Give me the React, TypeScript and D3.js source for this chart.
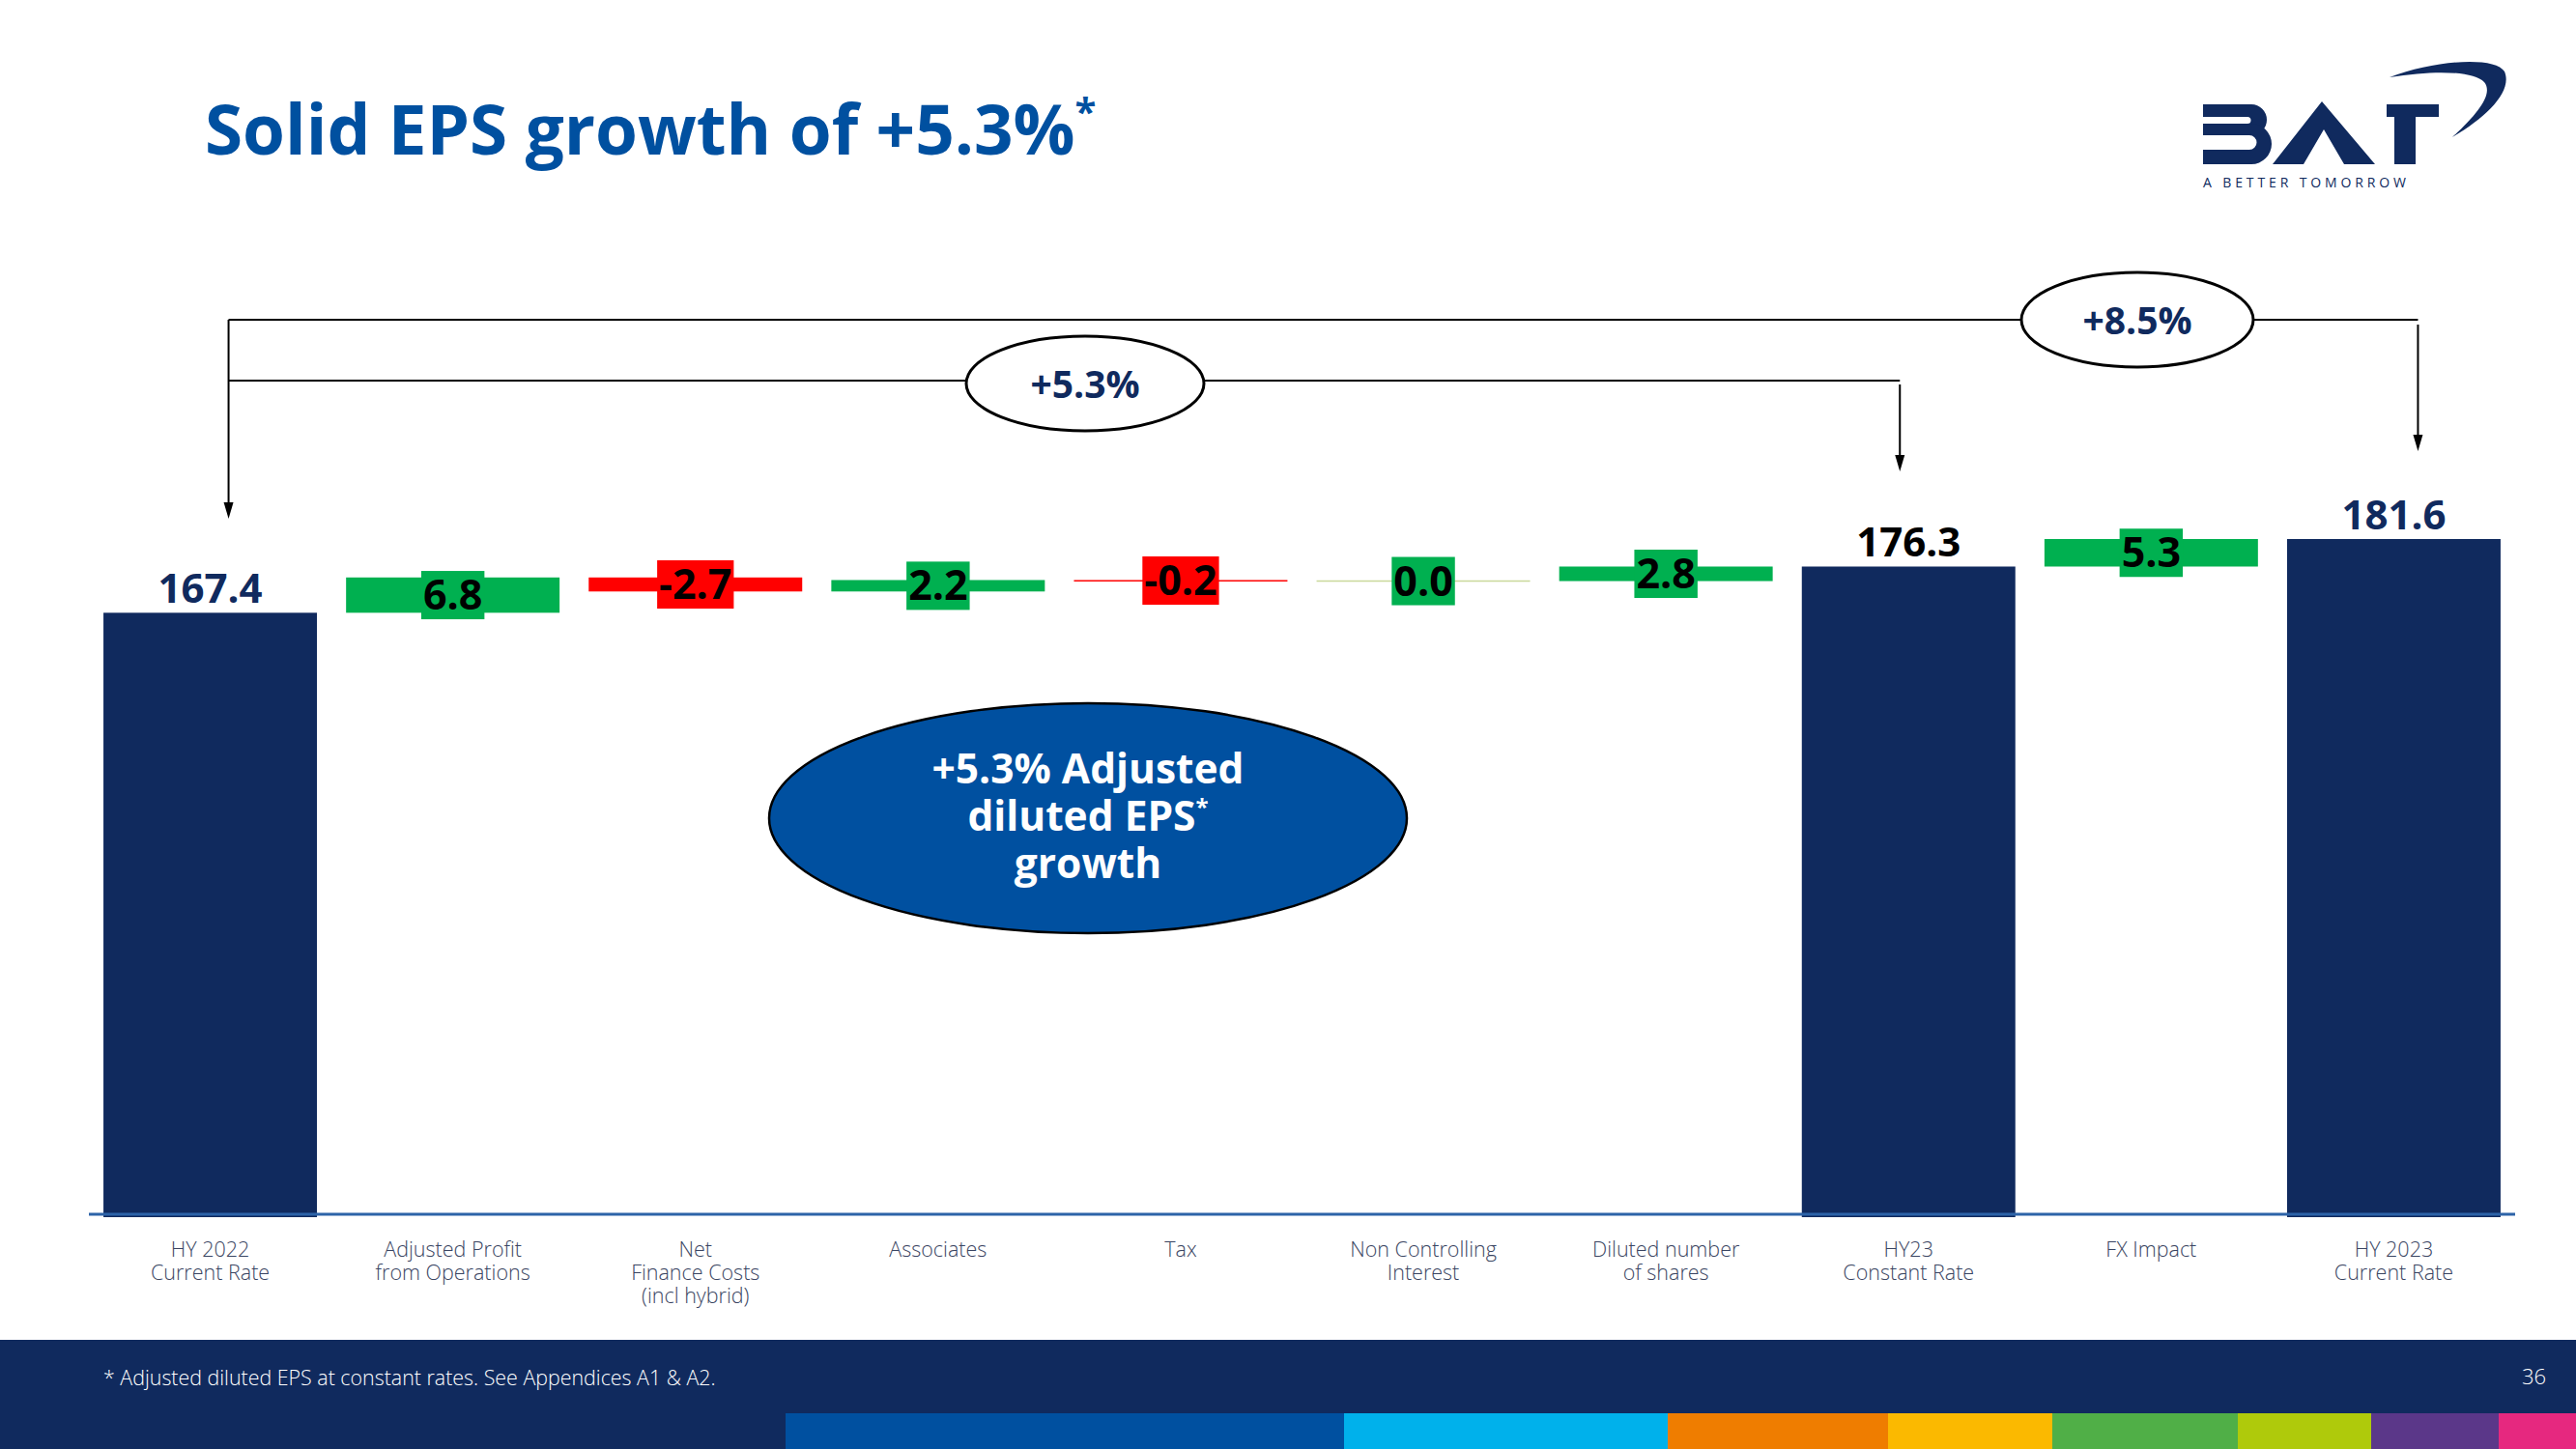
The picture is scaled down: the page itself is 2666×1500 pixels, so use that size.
import React, { useMemo } from "react";
import * as d3 from "d3";

const W = 2666;
const H = 1500;

// ---------- data ----------
const categories: string[][] = [
  ["HY 2022", "Current Rate"],
  ["Adjusted Profit", "from Operations"],
  ["Net", "Finance Costs", "(incl hybrid)"],
  ["Associates"],
  ["Tax"],
  ["Non Controlling", "Interest"],
  ["Diluted number", "of shares"],
  ["HY23", "Constant Rate"],
  ["FX Impact"],
  ["HY 2023", "Current Rate"],
];
const values = [167.4, 6.8, -2.7, 2.2, -0.2, 0.0, 2.8, 176.3, 5.3, 181.6];
const isTotal = [true, false, false, false, false, false, false, true, false, true];
const AXIS_MIN = 51; // broken axis baseline value
const growthLabels = ["+5.3%", "+8.5%"];
const bubbleLines = ["+5.3% Adjusted", "diluted EPS", "growth"];
const titleText = "Solid EPS growth of +5.3%";
const footnoteText = "* Adjusted diluted EPS at constant rates. See Appendices A1 & A2.";
const pageNumber = "36";
const logoTagline = "A BETTER TOMORROW";

// ---------- styles ----------
const NAVY = "#102a5e";
const BLUE = "#0050a0";
const GREEN = "#00b050";
const RED = "#ff0000";
const ZERO_LINE = "#c9d89a";
const totalLabelColors = [NAVY, "#000000", NAVY];
const stripeStops = [813, 1391, 1726, 1954, 2124, 2316, 2454, 2586, 2666];
const stripeColors = ["#0050a0", "#00b1eb", "#ef7d00", "#fbb900", "#50af47", "#afca0b", "#5b3789", "#e6287f"];
const FONT = "'Open Sans', 'Noto Sans', sans-serif";

let measureCtx: CanvasRenderingContext2D | null = null;
function textWidth(t: string, font: string) {
  if (!measureCtx) measureCtx = document.createElement("canvas").getContext("2d");
  if (!measureCtx) return t.length * 20;
  measureCtx.font = font;
  return measureCtx.measureText(t).width;
}

export default function App() {
  const x = d3
    .scaleBand<number>()
    .domain(d3.range(values.length))
    .range([92, 2603])
    .paddingInner(0.12)
    .paddingOuter(0.06);
  const y = d3.scaleLinear().domain([AXIS_MIN, d3.max(values) as number]).range([1260, 558]);

  const bars = useMemo(() => {
    let running = 0;
    return values.map((v, i) => {
      if (isTotal[i]) {
        running = v;
        return { i, v, lo: AXIS_MIN, hi: v, total: true };
      }
      const start = running;
      running = +(running + v).toFixed(4);
      return { i, v, lo: Math.min(start, running), hi: Math.max(start, running), total: false };
    });
  }, []);

  const labelFont = `700 43px ${FONT}`;
  let totalIdx = 0;

  const cx = (i: number) => (x(i) as number) + x.bandwidth() / 2;

  // annotation geometry derived from the band scale
  const outerY = 331;
  const innerY = 394;
  const leftArrowX = cx(0) + 19;
  const innerRightX = cx(7) - 9;
  const outerRightX = cx(9) + 25;
  const arrowHead = (ax: number, tipY: number) =>
    `M${ax - 5},${tipY - 17} L${ax + 5},${tipY - 17} L${ax},${tipY} Z`;

  return (
    <svg
      width={W}
      height={H}
      viewBox={`0 0 ${W} ${H}`}
      style={{ position: "absolute", left: 0, top: 0, display: "block", background: "#fff" }}
    >
      <rect x={0} y={0} width={W} height={H} fill="#ffffff" />

      {/* Title */}
      <text x={212} y={160} fontFamily={FONT} fontWeight={700} fontSize={71} fill={BLUE}>
        {titleText}
        <tspan fontSize={40} dy={-30}>*</tspan>
      </text>

      {/* Logo */}
      <g fill={NAVY}>
        <path d="M2280 108 H2330 A16 16 0 0 1 2330 140 H2280 V128 H2326 A3.5 3.5 0 0 0 2326 121 H2280 Z" />
        <path d="M2280 128 H2330 A21 21 0 0 1 2330 170 H2280 V155 H2328 A7.5 7.5 0 0 0 2328 140 H2280 Z" />
        <path
          fillRule="evenodd"
          d="M2352 170 L2403 105 L2458 170 Z M2384 170 L2405 134 L2426 170 Z"
        />
        <path d="M2470 108 H2524 V121 H2500 V170 H2478 V121 H2470 Z" />
        <path d="M2473 80 C2520 62 2582 58 2592 74 C2601 95 2572 122 2538 142 C2564 118 2581 97 2571 85 C2560 74 2522 72 2473 80 Z" />
        <text
          x={2280}
          y={194}
          fontFamily={FONT}
          fontSize={14}
          fontWeight={500}
          textLength={210}
          lengthAdjust="spacing"
        >
          {logoTagline}
        </text>
      </g>

      {/* Bars */}
      {bars.map((b) => {
        const bx = x(b.i) as number;
        const top = y(b.hi);
        const bottom = y(b.lo);
        const h = bottom - top;
        const color = b.total ? NAVY : b.v < 0 ? RED : GREEN;
        if (!b.total && h < 0.5) {
          return (
            <line
              key={"bar" + b.i}
              x1={bx}
              x2={bx + x.bandwidth()}
              y1={top}
              y2={top}
              stroke={ZERO_LINE}
              strokeWidth={1.5}
            />
          );
        }
        return (
          <rect
            key={"bar" + b.i}
            x={bx}
            y={top}
            width={x.bandwidth()}
            height={Math.max(h, 1.5)}
            fill={color}
          />
        );
      })}

      {/* Axis line */}
      <line x1={x.range()[0]} x2={x.range()[1]} y1={1257} y2={1257} stroke="#2d63a8" strokeWidth={3} />

      {/* Data labels */}
      {bars.map((b) => {
        const c = cx(b.i);
        const label = b.v.toFixed(1);
        if (b.total) {
          const col = totalLabelColors[totalIdx++];
          return (
            <text
              key={"lab" + b.i}
              x={c}
              y={y(b.hi) - 10}
              textAnchor="middle"
              fontFamily={FONT}
              fontWeight={700}
              fontSize={42}
              fill={col}
            >
              {label}
            </text>
          );
        }
        const mid = (y(b.hi) + y(b.lo)) / 2;
        const tw = textWidth(label, labelFont);
        const bw = tw + 4;
        const bh = 50;
        return (
          <g key={"lab" + b.i}>
            <rect x={c - bw / 2} y={mid - bh / 2} width={bw} height={bh} fill={b.v < 0 ? RED : GREEN} />
            <text
              x={c}
              y={mid + 15}
              textAnchor="middle"
              fontFamily={FONT}
              fontWeight={700}
              fontSize={43}
              fill="#000"
            >
              {label}
            </text>
          </g>
        );
      })}

      {/* Category labels */}
      {categories.map((lines, i) => (
        <text
          key={"cat" + i}
          x={cx(i)}
          y={1301}
          textAnchor="middle"
          fontFamily={FONT}
          fontWeight={300}
          fontSize={21.5}
          fill="#3a4562"
        >
          {lines.map((ln, j) => (
            <tspan key={j} x={cx(i)} dy={j === 0 ? 0 : 24}>
              {ln}
            </tspan>
          ))}
        </text>
      ))}

      {/* Brackets */}
      <g stroke="#000" strokeWidth={2} fill="none">
        <line x1={leftArrowX} x2={outerRightX} y1={outerY} y2={outerY} />
        <line x1={leftArrowX} x2={innerRightX} y1={innerY} y2={innerY} />
        <line x1={leftArrowX} x2={leftArrowX} y1={outerY} y2={522} />
        <line x1={innerRightX} x2={innerRightX} y1={innerY + 4} y2={474} />
        <line x1={outerRightX} x2={outerRightX} y1={outerY + 5} y2={452} />
      </g>
      <g fill="#000">
        <path d={arrowHead(leftArrowX, 537)} />
        <path d={arrowHead(innerRightX, 488)} />
        <path d={arrowHead(outerRightX, 467)} />
      </g>

      {/* Growth ellipses */}
      {[
        { cx: 1123, cy: 397, rx: 123, ry: 49, t: growthLabels[0] },
        { cx: 2212, cy: 331, rx: 120, ry: 49, t: growthLabels[1] },
      ].map((e, k) => (
        <g key={"ell" + k}>
          <ellipse cx={e.cx} cy={e.cy} rx={e.rx} ry={e.ry} fill="#fff" stroke="#000" strokeWidth={3} />
          <text
            x={e.cx}
            y={e.cy + 15}
            textAnchor="middle"
            fontFamily={FONT}
            fontWeight={700}
            fontSize={39}
            fill={NAVY}
          >
            {e.t}
          </text>
        </g>
      ))}

      {/* Big bubble */}
      <ellipse cx={1126} cy={847} rx={330} ry={119} fill={BLUE} stroke="#000" strokeWidth={2.5} />
      <text x={1126} y={811} textAnchor="middle" fontFamily={FONT} fontWeight={700} fontSize={42.5} fill="#fff">
        <tspan x={1126} dy={0}>{bubbleLines[0]}</tspan>
        <tspan x={1126} dy={49}>{bubbleLines[1]}</tspan>
        <tspan fontSize={24} dy={-16}>*</tspan>
        <tspan x={1126} dy={65}>{bubbleLines[2]}</tspan>
      </text>

      {/* Footer */}
      <rect x={0} y={1387} width={W} height={H - 1387} fill={NAVY} />
      <text x={107} y={1434} fontFamily={FONT} fontWeight={300} fontSize={21.4} fill="#fff">
        {footnoteText}
      </text>
      <text x={2635} y={1433} textAnchor="end" fontFamily={FONT} fontWeight={300} fontSize={22} fill="#fff">
        {pageNumber}
      </text>
      {stripeColors.map((c, k) => (
        <rect
          key={"st" + k}
          x={stripeStops[k]}
          y={1463}
          width={stripeStops[k + 1] - stripeStops[k]}
          height={H - 1463}
          fill={c}
        />
      ))}
    </svg>
  );
}
